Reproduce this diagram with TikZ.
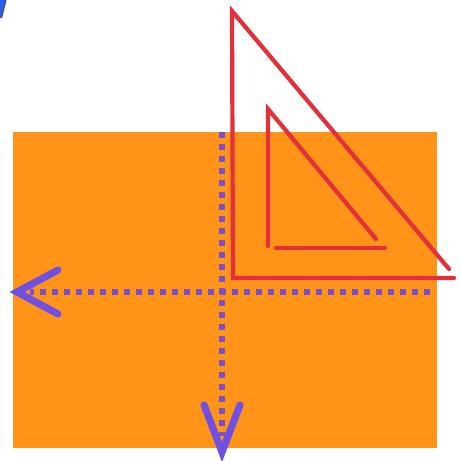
\documentclass[tikz,border=0pt]{standalone}
\definecolor{orangefill}{HTML}{FF9419}
\definecolor{trired}{HTML}{E3303A}
\definecolor{dotpurple}{HTML}{7B4FC8}
\definecolor{arrowviolet}{HTML}{7050E0}
\definecolor{markblue}{HTML}{2F5FF0}
\tikzset{
  tri/.style={draw=trired, line width=2.1pt, line cap=round, line join=miter},
  dotline/.style={draw=dotpurple, line width=2.6pt, dash pattern=on 3pt off 3pt},
  chevron/.style={draw=arrowviolet, line width=3.6pt, line cap=round, line join=miter, miter limit=4},
}
\begin{document}
\begin{tikzpicture}[x=0.5pt, y=-0.5pt]
\useasboundingbox (0,0) rectangle (461,461);
\fill[white] (0,0) rectangle (461,461);
% orange rectangle
\fill[orangefill] (13,132) rectangle (437,448);
% corner blue mark
\fill[markblue] (0,0) -- (6,0) -- (1.5,18) -- (0,18) -- cycle;
\draw[black!70, line width=0.6pt] (6,0) -- (1.5,18);
% coordinates
\coordinate (vtop) at (222,132);
\coordinate (vend) at (222,436);
\coordinate (vtip) at (222,452);
\coordinate (vwl) at (204,405);
\coordinate (vwr) at (240,405);
\coordinate (hright) at (430,292);
\coordinate (hend) at (30,292);
\coordinate (htip) at (17,292);
\coordinate (hwt) at (58,270);
\coordinate (hwb) at (58,314);
% dotted lines
\draw[dotline] (vtop) -- (vend);
\draw[dotline] (hright) -- (hend);
% arrow heads
\draw[chevron] (vwl) -- (vtip) -- (vwr);
\draw[chevron] (hwt) -- (htip) -- (hwb);
% outer triangle
\coordinate (oa) at (232,11);
\coordinate (ob) at (233,278);
\coordinate (oc) at (454,278);
\coordinate (od) at (449,269);
\draw[tri] (od) -- (oa) -- (ob) -- (oc);
% inner triangle
\coordinate (ia) at (268,109);
\coordinate (ib) at (268,246);
\coordinate (ic) at (276,248);
\coordinate (id) at (385,248);
\coordinate (ie) at (376,239);
\draw[tri] (ie) -- (ia) -- (ib);
\draw[tri] (ic) -- (id);
\end{tikzpicture}
\end{document}
